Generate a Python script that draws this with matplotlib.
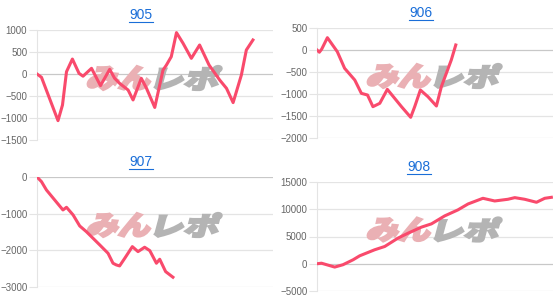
"""
Four small balance charts (905-908) with the watermark logo
"""
import matplotlib
matplotlib.use("Agg")
import matplotlib.pyplot as plt
from matplotlib.lines import Line2D
from matplotlib.textpath import TextPath
from matplotlib.patches import PathPatch
from matplotlib.font_manager import FontProperties
from matplotlib.transforms import Affine2D, IdentityTransform

plt.rcParams['font.family'] = ['Liberation Sans', 'DejaVu Sans']

# data (x = position along the shared axis, 0..100)
titles = ["905", "906", "907", "908"]

x905 = [0, 1.9, 8.9, 10.8, 12.5, 15.0, 17.8, 19.5, 23.1, 26.9, 30.8, 32.9, 35.0,
        38.6, 40.7, 44.2, 46.4, 49.9, 53.4, 54.8, 56.9, 59.1, 61.9, 65.4, 68.9,
        72.9, 77.4, 80.3, 83.1, 86.6, 88.7, 91.5]
y905 = [0, -75, -1060, -705, 52, 340, 15, -50, 129, -265, 106, -98, -212,
        -364, -590, -98, -326, -760, 90, 200, 394, 940, 697, 356, 659,
        205, -136, -326, -650, -23, 545, 773]

x906 = [0, 1.0, 2.0, 4.4, 8.6, 11.7, 16.0, 18.8, 21.4, 23.7, 26.6, 29.8, 35.8,
        39.7, 41.4, 43.8, 47.0, 50.6, 52.7, 56.9, 58.8]
y906 = [0, -50, 20, 280, -38, -416, -682, -985, -1023, -1288, -1212, -894, -1288,
        -1530, -1288, -909, -1061, -1273, -833, -227, 114]

x907 = [0, 1.9, 4.0, 7.5, 11.0, 12.5, 15.3, 18.1, 20.9, 26.6, 30.1, 32.2, 33.6,
        35.0, 37.2, 40.4, 42.8, 45.6, 47.8, 50.6, 52.0, 54.5, 57.6]
y907 = [0, -127, -354, -627, -899, -826, -1035, -1335, -1490, -1853, -2080, -2352, -2398,
        -2425, -2215, -1899, -2035, -1916, -2008, -2352, -2243, -2580, -2733]

x908 = [0, 1.9, 7.5, 11.0, 15.3, 18.1, 24.4, 28.7, 34.3, 38.6, 44.2, 48.5, 54.1,
        59.7, 64.0, 70.3, 75.3, 80.9, 83.8, 88.0, 93.0, 96.5, 99.3]
y908 = [0, 100, -610, -180, 730, 1460, 2560, 3170, 4700, 5610, 6710, 7320, 8780,
        9880, 10970, 12010, 11520, 11830, 12130, 11830, 11280, 12010, 12190]

ylims = [(-1500, 1000), (-2000, 500), (-3000, 0), (-5000, 15000)]
ysteps = [500, 500, 1000, 5000]

#======================================================================================================
# figure
#======================================================================================================
W, H = 555, 301
fig = plt.figure(figsize=(W / 100, H / 100), dpi=100)

# axes boxes in pixels: left, top, right, bottom
boxes = [(37, 30, 273, 140), (317, 28, 553, 138), (37, 177, 273, 287), (317, 182, 553, 291)]
title_pos = [(141, 15), (421, 13), (141, 162), (419, 167)]

line_color = '#f94a6c'
grid_color = '#e4e4e4'

wm_font = FontProperties(family='Noto Sans CJK JP', weight='heavy')


def watermark(ax):
    bb = ax.bbox
    cx = (bb.x0 + bb.x1) / 2 - 3
    cy = (bb.y0 + bb.y1) / 2 + 7
    for txt, col, dx in [("みん", '#eab0b4', -66), ("レポ", '#b4b4b4', 2)]:
        tp = TextPath((0, 0), txt, size=1, prop=wm_font)
        ext = tp.get_extents()
        tr = (Affine2D().translate(-ext.x0, -ext.y0)
              .scale(62 / ext.width, 24 / ext.height)
              .skew_deg(15, 0)
              .translate(cx + dx, cy - 12))
        patch = PathPatch(tr.transform_path(tp), facecolor=col, edgecolor=col, lw=1.6,
                          transform=IdentityTransform(), zorder=1.5)
        ax.add_artist(patch)


series = [(x905, y905), (x906, y906), (x907, y907), (x908, y908)]

for i, (xs, ys) in enumerate(series):
    l, t, r, b = boxes[i]
    ax = fig.add_axes([l / W, 1 - b / H, (r - l) / W, (b - t) / H])
    ax.set_facecolor('none')
    ax.plot(xs, ys, color=line_color, lw=2.2, zorder=3, solid_joinstyle='round')
    ax.set_xlim(0, 100)
    lo, hi = ylims[i]
    ax.set_ylim(lo, hi)
    ax.set_yticks(range(lo, hi + 1, ysteps[i]))
    ax.set_xticks([])
    for v in range(lo, hi + 1, ysteps[i]):
        ax.axhline(v, color='#c8c8c8' if v == 0 else grid_color, lw=0.9, zorder=1)
    for s in ['top', 'right', 'bottom']:
        ax.spines[s].set_visible(False)
    ax.spines['left'].set_color(grid_color)
    ax.tick_params(axis='y', length=6, color=grid_color, labelsize=7, labelcolor='#666666', pad=1)
    watermark(ax)

    tx, ty = title_pos[i]
    txt = fig.text(tx / W, 1 - ty / H, titles[i], ha='center', va='center',
                   fontsize=10, color='#1a6ed8')
    fig.canvas.draw()
    tb = txt.get_window_extent()
    fig.add_artist(Line2D([tb.x0 / W, tb.x1 / W], [(tb.y0 + 0.5) / H] * 2,
                          color='#1a6ed8', lw=0.8))

fig.savefig('out.png', dpi=100)
